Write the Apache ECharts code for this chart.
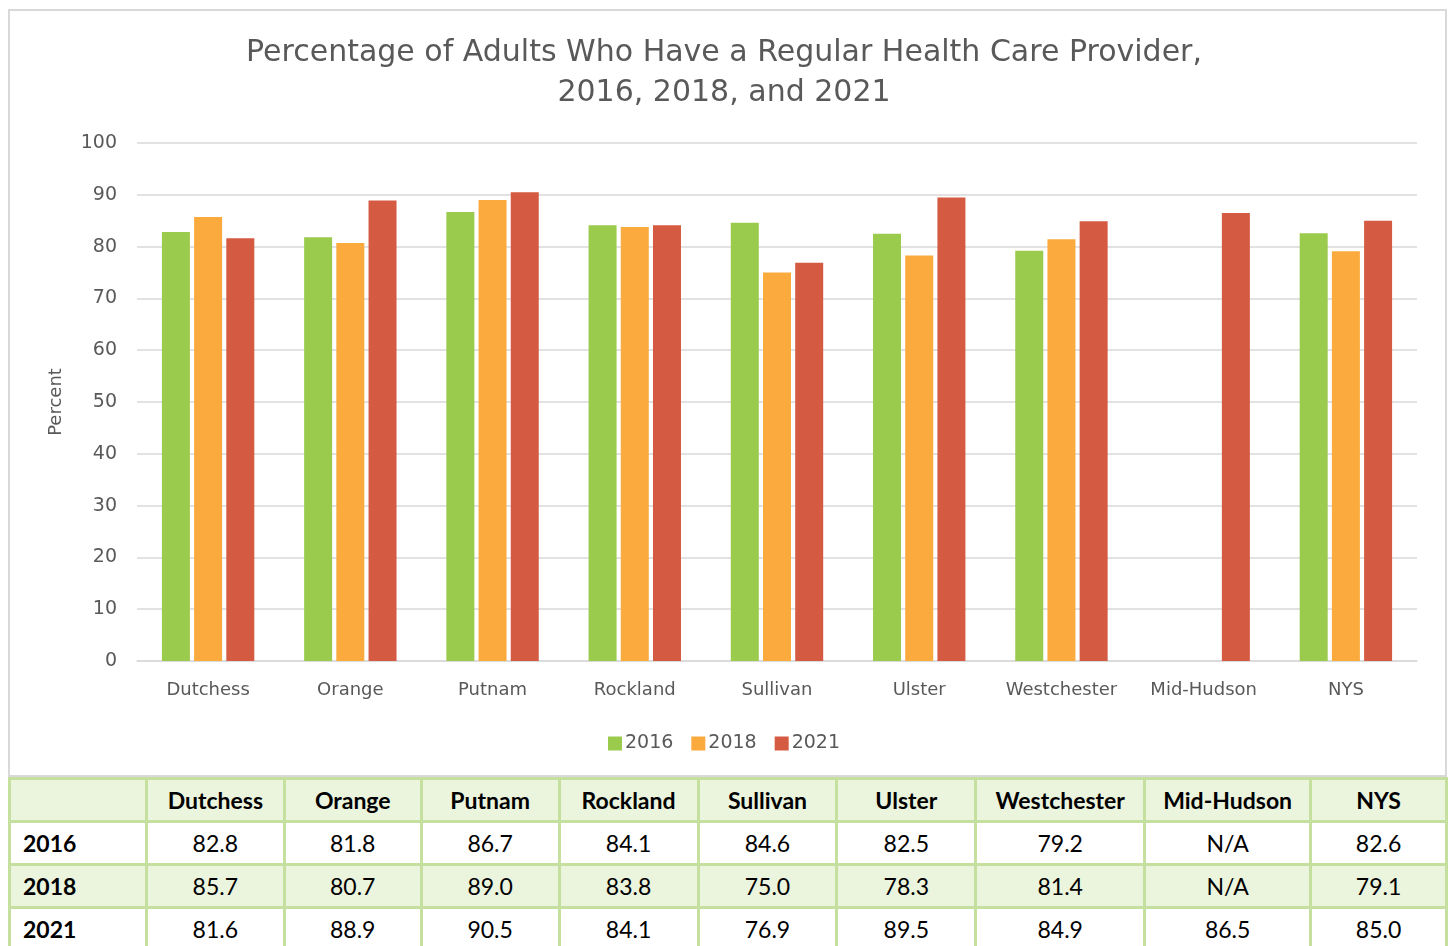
<!DOCTYPE html>
<html>
<head>
<meta charset="utf-8">
<script src="https://cdn.jsdelivr.net/npm/echarts@6/dist/echarts.min.js"></script>
<style>
  body { margin: 0; background: #fff; font-family: Lato, "Open Sans", sans-serif; }
  #frame { position: absolute; left: 8px; top: 9px; width: 1435px; height: 764px; border: 2px solid #d9d9d9; }
  #chart { position: absolute; left: 0; top: 0; width: 1448px; height: 776px; }
  #tbl { position: absolute; left: 8px; top: 777px; border-collapse: collapse; table-layout: fixed; }
  #tbl td { border: 3px solid #c4df9e; height: 40px; font-size: 23px; text-align: center; color: #000; padding: 0; }
  #tbl tr.shade td { background: #ebf4dd; }
  #tbl td.lab { text-align: left; padding-left: 12px; font-weight: bold; }
  #tbl tr.head td { font-weight: bold; }
</style>
</head>
<body>
<div id="frame"></div>
<div id="chart"></div>
<table id="tbl"></table>
<script>
const categories = ['Dutchess', 'Orange', 'Putnam', 'Rockland', 'Sullivan', 'Ulster', 'Westchester', 'Mid-Hudson', 'NYS'];
const years = ['2016', '2018', '2021'];
const data2016 = [82.8, 81.8, 86.7, 84.1, 84.6, 82.5, 79.2, null, 82.6];
const data2018 = [85.7, 80.7, 89.0, 83.8, 75.0, 78.3, 81.4, null, 79.1];
const data2021 = [81.6, 88.9, 90.5, 84.1, 76.9, 89.5, 84.9, 86.5, 85.0];
const colors = ['#9bcb4c', '#fbaa3d', '#d45a41'];
const colWidths = [137, 138, 137, 138, 139, 139, 139, 169, 166, 136];

const allData = [data2016, data2018, data2021];

// table under the chart
const tbl = document.getElementById('tbl');
let html = '<colgroup>' + colWidths.map(w => '<col style="width:' + w + 'px">').join('') + '</colgroup>';
html += '<tr class="head shade"><td></td>' + categories.map(c => '<td>' + c + '</td>').join('') + '</tr>';
years.forEach((y, i) => {
  html += '<tr' + (i === 1 ? ' class="shade"' : '') + '><td class="lab">' + y + '</td>' +
    allData[i].map(v => '<td>' + (v == null ? 'N/A' : v.toFixed(1)) + '</td>').join('') + '</tr>';
});
tbl.innerHTML = html;

const chart = echarts.init(document.getElementById('chart'));
const font = '"DejaVu Sans", sans-serif';
chart.setOption({
  animation: false,
  color: colors,
  textStyle: { fontFamily: font },
  title: {
    text: 'Percentage of Adults Who Have a Regular Health Care Provider,\n2016, 2018, and 2021',
    left: 'center',
    top: 28,
    textStyle: { fontSize: 30, fontWeight: 'normal', color: '#595959', lineHeight: 40, fontFamily: font }
  },
  legend: {
    data: years,
    top: 729,
    left: 'center',
    itemWidth: 14,
    itemHeight: 14,
    itemGap: 18,
    icon: 'rect',
    textStyle: { fontSize: 19, color: '#595959', padding: [0, 0, 0, -2], fontFamily: font }
  },
  grid: { left: 137, right: 31, top: 143, bottom: 115 },
  xAxis: {
    type: 'category',
    data: categories,
    axisLine: { lineStyle: { color: '#d9d9d9', width: 1.5 } },
    axisTick: { show: false },
    axisLabel: { fontSize: 18, color: '#595959', margin: 20, interval: 0, fontFamily: font }
  },
  yAxis: {
    type: 'value',
    min: 0,
    max: 100,
    interval: 10,
    name: 'Percent',
    nameLocation: 'middle',
    nameGap: 72,
    nameTextStyle: { fontSize: 18, color: '#595959', fontFamily: font },
    axisLabel: { fontSize: 19, color: '#595959', margin: 20, fontFamily: font },
    splitLine: { lineStyle: { color: '#d9d9d9', width: 1.5 } }
  },
  series: years.map((y, i) => ({
    name: y,
    type: 'bar',
    data: allData[i],
    barWidth: 28,
    barGap: '15%'
  }))
});
</script>
</body>
</html>
